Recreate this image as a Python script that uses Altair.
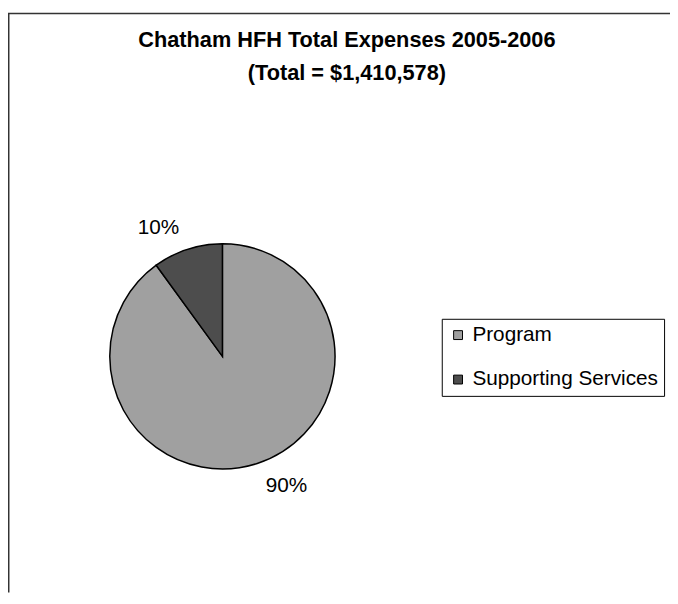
import altair as alt
import pandas as pd

# ---- data ----
categories = ["Program", "Supporting Services"]
shares = [90, 10]            # percent of total expenses
slice_order = [0, 1]
colors = ["#A0A0A0", "#4D4D4D"]
title_lines = ["Chatham HFH Total Expenses 2005-2006", "(Total = $1,410,578)"]

df = pd.DataFrame({"category": categories, "share": shares, "order": slice_order})

FONT = "Liberation Sans"
W, H = 670, 588
CX, CY = 217, 349
R = 114

base = alt.Chart(df)

pie = base.mark_arc(radius=R, stroke="black", strokeWidth=1.5).encode(
    theta=alt.Theta("share:Q", stack=True),
    color=alt.Color(
        "category:N",
        scale=alt.Scale(domain=categories, range=colors),
        legend=alt.Legend(title=None, orient="none", legendX=439, legendY=311),
    ),
    order=alt.Order("order:Q"),
    x=alt.value(CX),
    y=alt.value(CY),
)

lab_base = (
    base.transform_joinaggregate(total="sum(share)")
    .transform_window(cum="sum(share)", sort=[alt.SortField("order")], frame=[None, 0])
    .transform_calculate(
        mid="(datum.cum - datum.share / 2) / datum.total * 2 * PI",
        label="round(datum.share / datum.total * 100) + '%'",
    )
)


def label_layer(cat, dx, dy):
    return (
        lab_base.transform_filter(alt.datum.category == cat)
        .mark_text(radius=145, font=FONT, fontSize=21, color="black", dx=dx, dy=dy)
        .encode(
            theta=alt.Theta("mid:Q", scale=None, stack=False),
            text="label:N",
            x=alt.value(CX),
            y=alt.value(CY),
        )
    )


labels = label_layer("Program", 20, -7) + label_layer("Supporting Services", -20, 8)

one = alt.Data(values=[{}])
frame_left = alt.Chart(one).mark_rule(color="#333333", strokeWidth=1.5).encode(
    x=alt.value(0.75), y=alt.value(2), y2=alt.value(H)
)
frame_top = alt.Chart(one).mark_rule(color="#333333", strokeWidth=1.5).encode(
    x=alt.value(0), x2=alt.value(W), y=alt.value(2)
)

chart = (
    alt.layer(frame_left, frame_top, pie, labels)
    .properties(
        width=W,
        height=H,
        padding=0,
        autosize="none",
        title=alt.TitleParams(
            text=title_lines,
            font=FONT,
            fontSize=22,
            fontWeight="bold",
            color="black",
            anchor="middle",
            frame="group",
            offset=-74,
            dx=8,
            lineHeight=33,
        ),
    )
    .configure_view(stroke=None)
    .configure_legend(
        labelFont=FONT,
        labelFontSize=21,
        labelColor="black",
        labelLimit=400,
        labelOffset=4,
        symbolType="square",
        symbolSize=81,
        symbolStrokeColor="black",
        symbolStrokeWidth=1,
        symbolOpacity=1,
        strokeColor="black",
        fillColor="white",
        padding=6,
        rowPadding=23,
    )
)

chart.save("out.html", embed_options={"renderer": "svg", "actions": False})
